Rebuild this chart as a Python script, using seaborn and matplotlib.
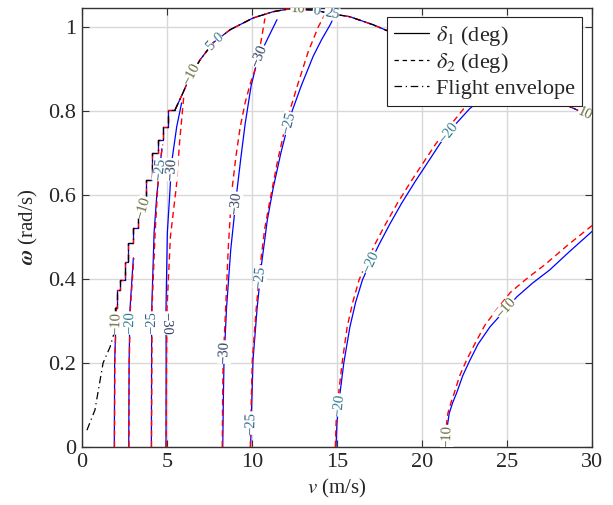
import numpy as np
import matplotlib
matplotlib.use("Agg")
import matplotlib.pyplot as plt
from matplotlib import font_manager as fm
from matplotlib.lines import Line2D
import seaborn as sns

# ---------------------------------------------------------------
# Flight envelope boundary (v in m/s, omega in rad/s)
env_v = [0.29, 0.76, 1.24, 1.65, 1.94, 2.06, 2.24, 2.53, 2.71, 3.00, 3.29,
         3.53, 3.76, 4.12, 4.47, 4.76, 5.06, 5.47, 5.94, 6.35, 6.94, 7.71,
         8.71, 10.06, 11.24, 12.24, 13.59, 15.00, 15.76, 17.12, 18.12,
         20.0, 22.0, 24.0, 26.0, 28.0, 28.7, 30.0]
env_w = [0.040, 0.088, 0.200, 0.238, 0.279, 0.331, 0.374, 0.398, 0.440,
         0.486, 0.521, 0.560, 0.590, 0.636, 0.700, 0.731, 0.762, 0.802,
         0.843, 0.881, 0.921, 0.962, 0.993, 1.021, 1.036, 1.043, 1.040,
         1.029, 1.024, 1.005, 0.988, 0.955, 0.921, 0.887, 0.853, 0.822,
         0.810, 0.786]
overlay_start_v = 1.94   # contours run along the boundary from here on
stair_end_v = 5.47       # grid stairs visible on the steep low-speed part

levels = [-10, -20, -25, -30, -30, -25, -20, -10]

# delta_1 contours (solid)
d1_v = [
    [1.90, 1.92, 2.02],
    [2.75, 2.77, 2.82, 3.02],
    [4.08, 4.10, 4.24, 4.40, 4.70],
    [4.94, 4.95, 4.94, 5.02, 5.14, 5.27, 5.57, 5.86],
    [8.28, 8.31, 8.35, 8.50, 8.75, 9.10, 9.35, 9.60, 9.95, 10.27, 10.60, 10.96, 11.47],
    [9.92, 9.98, 10.06, 10.30, 10.57, 10.90, 11.24, 11.70, 12.24, 12.90, 13.60, 14.10, 14.60, 14.90],
    [14.94, 15.00, 15.18, 15.40, 15.76, 16.10, 16.50, 17.00, 17.50, 18.10, 18.80, 19.60,
     20.30, 21.06, 21.90, 22.80, 23.80, 24.80, 25.40],
    [21.45, 21.48, 21.60, 21.80, 22.04, 22.40, 22.80, 23.30, 24.00, 24.80, 25.57,
     26.50, 27.50, 28.70, 30.00],
]
d1_w = [
    [0.0, 0.20, 0.333],
    [0.0, 0.20, 0.326, 0.45],
    [0.0, 0.326, 0.51, 0.60, 0.71],
    [0.0, 0.20, 0.326, 0.51, 0.588, 0.676, 0.762, 0.819],
    [0.0, 0.10, 0.20, 0.33, 0.47, 0.605, 0.69, 0.77, 0.86, 0.912, 0.945, 0.975, 1.017],
    [0.0, 0.10, 0.207, 0.33, 0.438, 0.54, 0.615, 0.70, 0.786, 0.86, 0.93, 0.97, 1.005, 1.03],
    [0.0, 0.06, 0.129, 0.20, 0.286, 0.345, 0.398, 0.443, 0.484, 0.530, 0.580, 0.632,
     0.675, 0.722, 0.765, 0.805, 0.838, 0.858, 0.866],
    [0.0, 0.047, 0.080, 0.105, 0.129, 0.170, 0.205, 0.245, 0.286, 0.322, 0.357,
     0.390, 0.421, 0.466, 0.513],
]

# delta_2 contours (dashed)
d2_v = [
    [1.91, 1.93, 2.03],
    [2.76, 2.78, 2.84, 3.05],
    [4.09, 4.12, 4.30, 4.50, 4.75],
    [4.95, 4.97, 5.00, 5.20, 5.55, 5.75, 6.00],
    [8.25, 8.27, 8.30, 8.45, 8.60, 8.80, 9.05, 9.30, 9.60, 9.90, 10.15, 10.35, 10.55, 10.76],
    [9.90, 9.95, 10.02, 10.25, 10.50, 10.75, 11.06, 11.50, 12.00, 12.63, 13.30, 13.90, 14.30],
    [14.90, 14.95, 15.10, 15.30, 15.60, 15.93, 16.30, 16.78, 17.25, 17.85, 18.55, 19.35,
     20.05, 20.82, 21.65, 22.45, 23.45, 24.45, 25.10],
    [21.40, 21.42, 21.52, 21.70, 21.90, 22.22, 22.60, 23.10, 23.70, 24.45, 25.20,
     26.20, 27.20, 28.50, 30.00],
]
d2_w = [
    [0.0, 0.20, 0.333],
    [0.0, 0.20, 0.326, 0.45],
    [0.0, 0.33, 0.51, 0.65, 0.72],
    [0.0, 0.20, 0.33, 0.50, 0.62, 0.73, 0.84],
    [0.0, 0.10, 0.20, 0.33, 0.47, 0.605, 0.69, 0.76, 0.82, 0.865, 0.895, 0.925, 0.97, 1.02],
    [0.0, 0.10, 0.207, 0.33, 0.438, 0.52, 0.588, 0.68, 0.77, 0.855, 0.94, 1.0, 1.03],
    [0.0, 0.06, 0.129, 0.20, 0.286, 0.345, 0.398, 0.443, 0.484, 0.530, 0.580, 0.632,
     0.675, 0.722, 0.765, 0.805, 0.838, 0.858, 0.866],
    [0.0, 0.047, 0.080, 0.105, 0.129, 0.170, 0.205, 0.245, 0.290, 0.330, 0.368,
     0.402, 0.433, 0.478, 0.527],
]

# inline labels: (line index, omega position)
label_line = [0, 1, 2, 2, 3, 3, 4, 4, 4, 5, 5, 5, 6, 6, 6, 7, 7]
label_w = [0.295, 0.295, 0.295, 0.66, 0.295, 0.66, 0.226, 0.58, 0.93,
           0.057, 0.405, 0.77, 0.10, 0.44, 0.748, 0.025, 0.33]

# labels sitting on the envelope boundary: (level, v position)
bnd_level = [-10, -10, 5, 0, 10, 0, 25, 10]
bnd_v = [3.6, 6.45, 7.55, 8.05, 12.7, 13.8, 14.7, 29.6]

label_colors = {-30: "#2b3d5e", -25: "#2f6588", -20: "#2c7b8b",
                -10: "#636a3a", 0: "#3a7888", 5: "#3a6c8a",
                10: "#636a3a", 25: "#2f6588"}

# ---------------------------------------------------------------
sns.set_theme(style="whitegrid")
serif_path = fm.findfont(fm.FontProperties(family="Liberation Serif"),
                         fallback_to_default=False)
serif_name = fm.FontProperties(fname=serif_path).get_name()
plt.rcParams["font.family"] = [serif_name, "DejaVu Serif"]
plt.rcParams["mathtext.fontset"] = "stix"

fig = plt.figure(figsize=(6.13, 5.05), dpi=100)
ax = fig.add_axes([82 / 613, 1 - 447 / 505, 510 / 613, 439.5 / 505])
ax.set_xlim(0, 30)
ax.set_ylim(0, 1.046)

blue = "#0000ff"
red = "#ff0000"
dash = (0, (4.5, 3.0))
dashdot = (0, (6.0, 3.0, 1.0, 3.0))

ev = np.asarray(env_v)
ew = np.asarray(env_w)
seg_low = ev <= overlay_start_v
seg_stair = (ev >= overlay_start_v) & (ev <= stair_end_v)
seg_top = ev >= stair_end_v


def trace(mask, color, lw, ls, z, steps):
    kw = dict(drawstyle="steps-pre") if steps else {}
    sns.lineplot(x=ev[mask], y=ew[mask], ax=ax, sort=False, estimator=None,
                 color=color, lw=lw, linestyle=ls, zorder=z, **kw)


# contours that follow the boundary
trace(seg_stair, blue, 0.9, "-", 2, True)
trace(seg_top, blue, 0.9, "-", 2, False)
trace(seg_stair, red, 1.0, dash, 3, True)
trace(seg_top, red, 1.0, dash, 3, False)

for xs, ys in zip(d1_v, d1_w):
    sns.lineplot(x=xs, y=ys, ax=ax, sort=False, estimator=None,
                 color=blue, lw=0.9, zorder=2)
for xs, ys in zip(d2_v, d2_w):
    sns.lineplot(x=xs, y=ys, ax=ax, sort=False, estimator=None,
                 color=red, lw=1.0, linestyle=dash, zorder=3)

# flight envelope
trace(seg_low, "black", 0.9, dashdot, 4, False)
trace(seg_stair, "black", 0.9, dashdot, 4, True)
trace(seg_top, "black", 0.9, dashdot, 4, False)


def put_label(x0, y0, xa, ya, xb, yb, text, color):
    p1 = ax.transData.transform((xa, ya))
    p2 = ax.transData.transform((xb, yb))
    ang = np.degrees(np.arctan2(p2[1] - p1[1], p2[0] - p1[0]))
    if ang > 90:
        ang -= 180
    elif ang <= -90:
        ang += 180
    ax.text(x0, y0, text, rotation=ang, rotation_mode="anchor",
            ha="center", va="center", color=color, fontsize=10.5,
            bbox=dict(boxstyle="square,pad=0.02", fc="white", ec="none"),
            zorder=6, clip_on=True)


def fmt(level):
    return f"\u2212{abs(level)}" if level < 0 else f"{level}"


for li, w0 in zip(label_line, label_w):
    xs = np.asarray(d1_v[li])
    ys = np.asarray(d1_w[li])
    d = 0.02
    put_label(np.interp(w0, ys, xs), w0,
              np.interp(w0 - d, ys, xs), w0 - d,
              np.interp(w0 + d, ys, xs), w0 + d,
              fmt(levels[li]), label_colors[levels[li]])

for lv, v0 in zip(bnd_level, bnd_v):
    d = 0.4
    put_label(v0, np.interp(v0, ev, ew),
              v0 - d, np.interp(v0 - d, ev, ew),
              v0 + d, np.interp(v0 + d, ev, ew),
              fmt(lv), label_colors[lv])

ax.set_xticks(np.arange(0, 31, 5))
ax.set_yticks([0, 0.2, 0.4, 0.6, 0.8, 1.0])
ax.set_yticklabels(["0", "0.2", "0.4", "0.6", "0.8", "1"])
ax.tick_params(axis="both", which="both", direction="in", length=5, width=0.8,
               color="#333333", labelsize=16, top=True, right=True,
               bottom=True, left=True, pad=4)
ax.grid(True, color="#d8d8d8", lw=1.0)
ax.set_axisbelow(True)
for s in ax.spines.values():
    s.set_color("#333333")
    s.set_linewidth(1.0)
ax.set_facecolor("white")
ax.set_xlabel(r"$v$ (m/s)", fontsize=15, labelpad=4)
ax.set_ylabel(r"$\boldsymbol{\omega}$ (rad/s)", fontsize=15, labelpad=6)

handles = [Line2D([], [], color="black", lw=0.9),
           Line2D([], [], color="black", lw=0.9, linestyle=(0, (3.5, 3.0))),
           Line2D([], [], color="black", lw=0.9, linestyle=dashdot)]
names = [r"$\delta_1$ (deg)", r"$\delta_2$ (deg)", "Flight envelope"]
leg = ax.legend(handles, names, loc="upper right", bbox_to_anchor=(0.98, 0.978),
                borderaxespad=0, fontsize=16, frameon=True, fancybox=False,
                framealpha=1, edgecolor="#222222", handlelength=1.6,
                handletextpad=0.3, labelspacing=0.15, borderpad=0.3)
leg.get_frame().set_linewidth(0.8)
leg.set_zorder(10)

fig.savefig("out.png", dpi=100, facecolor="white")
